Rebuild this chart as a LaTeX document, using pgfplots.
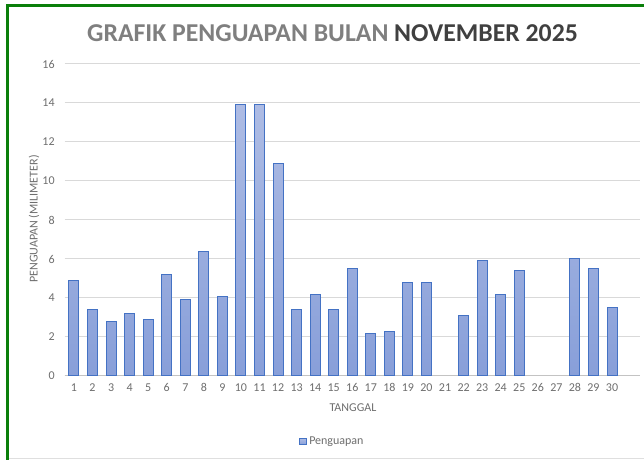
\documentclass[border=0pt]{standalone}
\usepackage{pgfplots}
\pgfplotsset{compat=1.18}
\usepackage{fontspec}
\setmainfont{Carlito}
\definecolor{framegreen}{HTML}{0A7F0A}
\definecolor{barline}{HTML}{4472C4}
\definecolor{bartop}{HTML}{AEBCE4}
\definecolor{barbot}{HTML}{889FD9}
\definecolor{gridgray}{HTML}{D9D9D9}
\definecolor{txtgray}{HTML}{6E6E6E}
\definecolor{titlelight}{HTML}{7F7F7F}
\definecolor{titledark}{HTML}{404040}
\begin{document}
\begin{tikzpicture}[x=0.75pt,y=0.75pt]
\useasboundingbox (0,0) rectangle (644,460);
\fill[white] (0,0) rectangle (644,460);
\draw[gray!25, line width=0.75pt] (9,1.5) -- (644,1.5);
\draw[framegreen, line width=2.4pt] (7.5,0) -- (7.5,454.5) -- (644,454.5);
\node[font=\fontsize{19.3}{21}\selectfont\bfseries, inner sep=0pt] at (332.5,427)
  {\textcolor{titlelight}{GRAFIK PENGUAPAN BULAN} \textcolor{titledark}{NOVEMBER 2025}};
\begin{axis}[
  at={(48.525pt,63pt)}, anchor=south west,
  scale only axis, width=431.5pt, height=234pt,
  ybar, bar width=7.5pt,
  xmin=0.5, xmax=31.51, ymin=0, ymax=16,
  ytick={0,2,...,16}, xtick={1,...,30},
  axis x line*=bottom, axis y line*=left,
  y axis line style={draw=none},
  x axis line style={draw=gridgray!90!black, line width=0.75pt, -},
  ymajorgrids, grid style={gridgray, line width=0.75pt},
  major tick length=0pt,
  /pgf/number format/assume math mode=true,
  tick label style={font=\fontsize{9}{11}\selectfont, text=txtgray},
  yticklabel style={xshift=-4pt},
  xticklabel style={yshift=-2pt},
  xlabel={TANGGAL}, ylabel={PENGUAPAN (MILIMETER)},
  label style={font=\fontsize{9}{11}\selectfont, text=txtgray},
  x label style={at={(axis description cs:0.501,-0.1026)}, anchor=center},
  y label style={at={(axis description cs:-0.0534,0.503)}, anchor=center},
  legend style={at={(0.466,-0.21)}, anchor=center, draw=none, fill=none,
    font=\fontsize{9}{11}\selectfont, text=txtgray, inner sep=0pt},
  legend image code/.code={\draw[barline, fill=bartop!70!barbot, line width=0.6pt] (0pt,-2.4pt) rectangle (4.8pt,2.4pt);},
]
\addplot[draw=barline, line width=0.75pt, top color=bartop, bottom color=barbot] coordinates {
(1,4.9) (2,3.4) (3,2.8) (4,3.2) (5,2.9) (6,5.2) (7,3.9) (8,6.4) (9,4.1) (10,13.9)
(11,13.9) (12,10.9) (13,3.4) (14,4.2) (15,3.4) (16,5.5) (17,2.2) (18,2.3) (19,4.8) (20,4.8)
(22,3.1) (23,5.9) (24,4.2) (25,5.4)
(28,6.0) (29,5.5) (30,3.5)
};
\addlegendentry{Penguapan}
\end{axis}
\end{tikzpicture}
\end{document}
